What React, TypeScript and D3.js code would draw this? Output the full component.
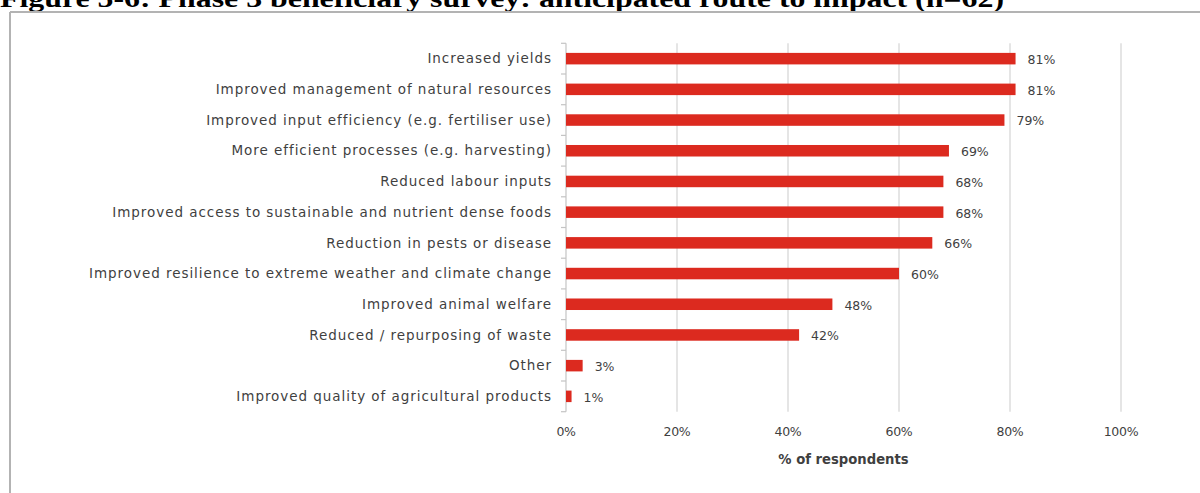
import React from "react";
import * as d3 from "d3";

const categories = [
  "Increased yields",
  "Improved management of natural resources",
  "Improved input efficiency (e.g. fertiliser use)",
  "More efficient processes (e.g. harvesting)",
  "Reduced labour inputs",
  "Improved access to sustainable and nutrient dense foods",
  "Reduction in pests or disease",
  "Improved resilience to extreme weather and climate change",
  "Improved animal welfare",
  "Reduced / repurposing of waste",
  "Other",
  "Improved quality of agricultural products",
];
const values = [81, 81, 79, 69, 68, 68, 66, 60, 48, 42, 3, 1];
const xTicks = [0, 20, 40, 60, 80, 100];
const title = "Figure 5-6: Phase 3 beneficiary survey: anticipated route to impact (n=62)";
const xAxisTitle = "% of respondents";

export default function App() {
  const W = 1200, H = 493;
  const x0 = 566, x1 = 1121, yTop = 43.3, yBot = 411.7;
  const x = d3.scaleLinear().domain([0, 100]).range([x0, x1]);
  const y = d3.scaleBand<string>().domain(categories).range([yTop, yBot]).paddingInner(0.625).paddingOuter(0.3125);
  const step = (yBot - yTop) / categories.length;
  const tickYs = d3.range(categories.length + 1).map((i) => yTop + i * step);
  const font = "'DejaVu Sans', sans-serif";
  const textColor = "#3f3f3f";
  return (
    <svg width={W} height={H} style={{ position: "absolute", left: 0, top: 0 }} xmlns="http://www.w3.org/2000/svg">
      <rect x={0} y={0} width={W} height={H} fill="#fff" />
      <text x={0} y={7} fontFamily="'Liberation Serif', 'Times New Roman', serif" fontWeight="bold" fontSize={26}
        textLength={1004} lengthAdjust="spacingAndGlyphs" fill="#000">{title}</text>
      <line x1={10} x2={W} y1={12} y2={12} stroke="#b3b3b3" strokeWidth={2} />
      <line x1={10} x2={10} y1={12} y2={H} stroke="#b3b3b3" strokeWidth={2} />
      {xTicks.filter((t) => t > 0).map((t) => (
        <line key={"g" + t} x1={x(t)} x2={x(t)} y1={yTop} y2={yBot} stroke="#d4d4d4" strokeWidth={1.2} />
      ))}
      <line x1={x0} x2={x0} y1={yTop} y2={yBot} stroke="#c4c4c4" strokeWidth={1.2} />
      {tickYs.map((ty, i) => (
        <line key={"t" + i} x1={x0 - 5} x2={x0} y1={ty} y2={ty} stroke="#c4c4c4" strokeWidth={1.2} />
      ))}
      {categories.map((c, i) => (
        <g key={c}>
          <rect x={x(0)} y={y(c)!} width={x(values[i]) - x(0)} height={y.bandwidth()} fill="#dc2a1f" />
          <text x={552} y={y(c)! + y.bandwidth() / 2} dy="0.35em" textAnchor="end" fontFamily={font}
            fontSize={13.5} letterSpacing={0.95} fill={textColor}>{c}</text>
          <text x={x(values[i]) + 12} y={y(c)! + y.bandwidth() / 2 + 1} dy="0.35em" fontFamily={font}
            fontSize={12.5} fill={textColor}>{values[i]}%</text>
        </g>
      ))}
      {xTicks.map((t) => (
        <text key={"l" + t} x={x(t)} y={432} dy="0.35em" textAnchor="middle" fontFamily={font} fontSize={12.5}
          letterSpacing={-0.3} fill={textColor}>{t}%</text>
      ))}
      <text x={(x0 + x1) / 2} y={459} dy="0.35em" textAnchor="middle" fontFamily={font} fontSize={13.2}
        fontWeight="bold" fill={textColor}>{xAxisTitle}</text>
    </svg>
  );
}
